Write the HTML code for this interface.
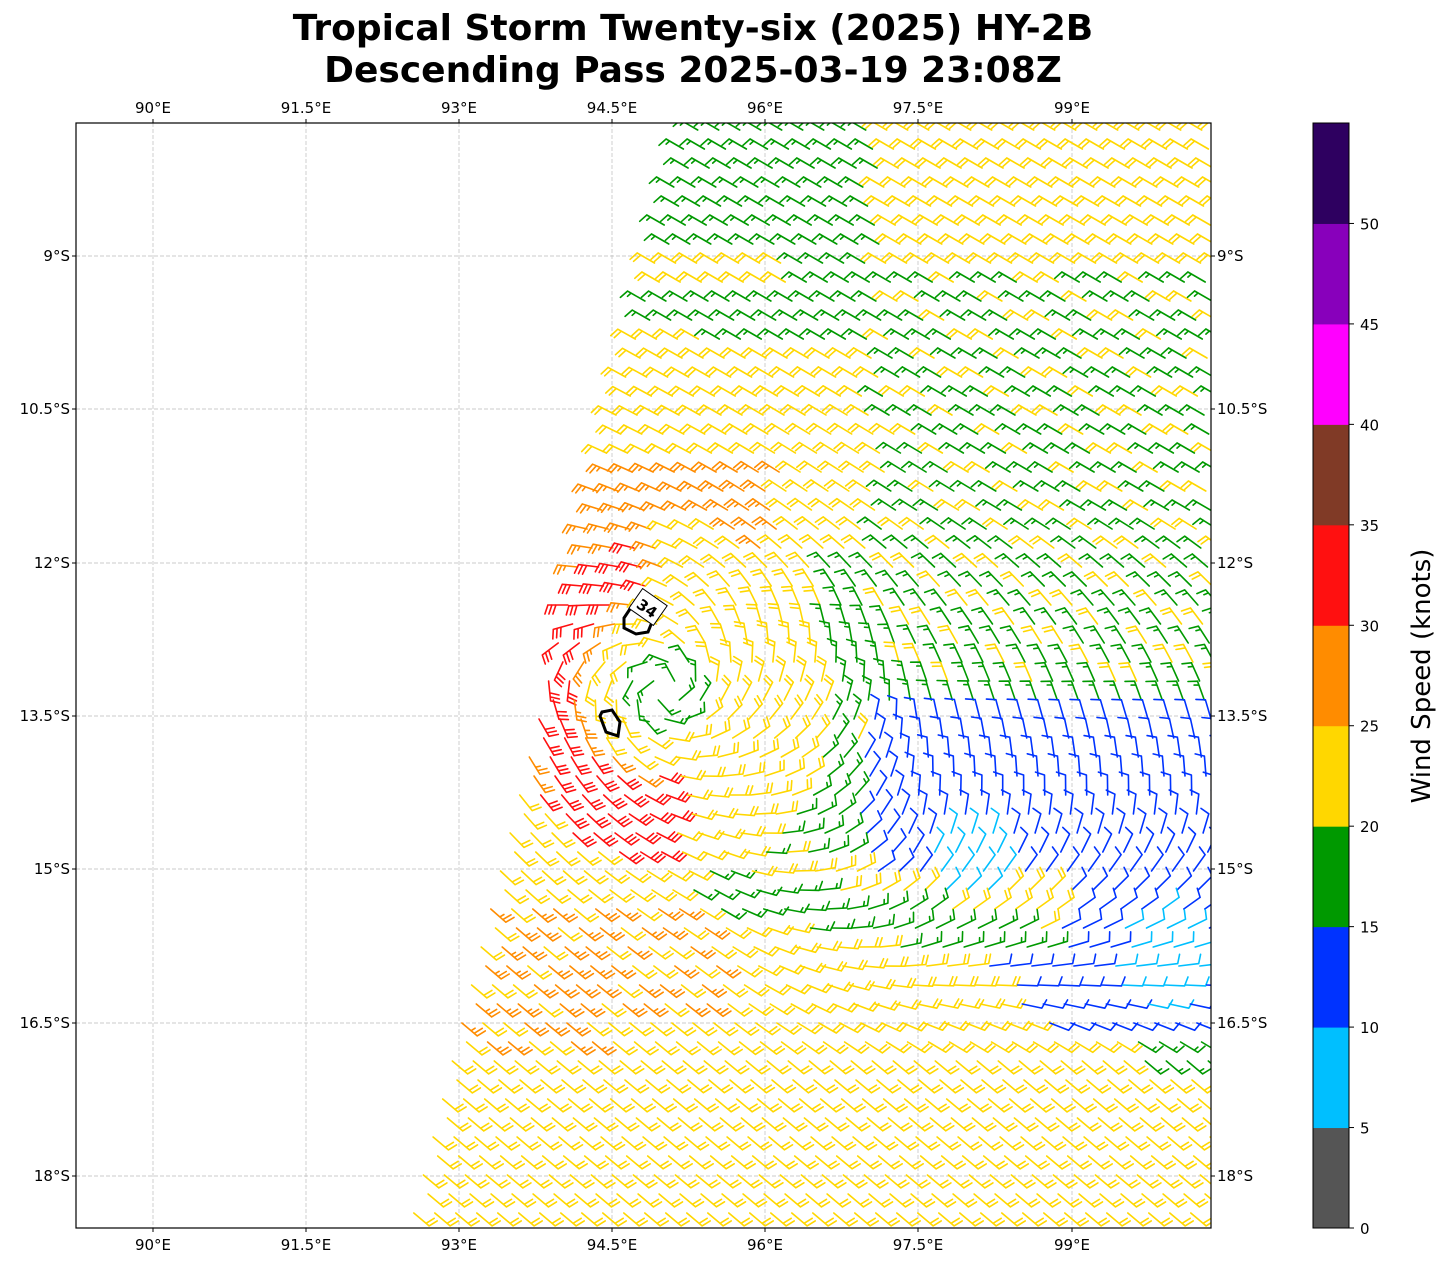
<!DOCTYPE html>
<html><head><meta charset="utf-8">
<style>
body{margin:0;background:#fff;width:1449px;height:1264px;overflow:hidden;font-family:"DejaVu Sans","Liberation Sans",sans-serif}
</style></head><body>
<svg id="s" width="1449" height="1264" xmlns="http://www.w3.org/2000/svg" font-family="DejaVu Sans, Liberation Sans, sans-serif">
<defs><clipPath id="cp"><rect x="76" y="123" width="1135" height="1105"/></clipPath></defs>
<text x="693" y="40" font-size="36" font-weight="bold" text-anchor="middle">Tropical Storm Twenty-six (2025) HY-2B</text>
<text x="693" y="82" font-size="36" font-weight="bold" text-anchor="middle">Descending Pass 2025-03-19 23:08Z</text>
<g id="grid" stroke="#bbbbbb" stroke-width="0.7" stroke-dasharray="4,2"></g>
<g id="barbs" clip-path="url(#cp)" fill="none" stroke-width="1.6" stroke-linecap="round"></g>
<g clip-path="url(#cp)" fill="none" stroke="#000" stroke-width="3">
<path d="M632 606 L624 618 L624 628 L636 634 L648 632 L652 622"/>
<path d="M600 716 L606 732 L618 736 L620 722 L612 710 L602 712 Z"/>
</g>
<rect x="633" y="595" width="30" height="24" fill="#fff" stroke="#000" transform="rotate(35 648 607)"/>
<text x="648" y="614" font-size="15" font-weight="bold" text-anchor="middle" transform="rotate(35 648 607)">34</text>
<rect x="76" y="123" width="1135" height="1105" fill="none" stroke="#000" stroke-width="1.2"/>
<g id="labels" font-size="15"></g>
<g id="cb"></g>
<text transform="translate(1430 676) rotate(-90)" font-size="26" text-anchor="middle">Wind Speed (knots)</text>
</svg>
<script>
const NS="http://www.w3.org/2000/svg";
function el(p,t,a,txt){const e=document.createElementNS(NS,t);for(const k in a)e.setAttribute(k,a[k]);if(txt!==undefined)e.textContent=txt;p.appendChild(e);return e;}
const g=document.getElementById('grid'),L=document.getElementById('labels');
const lons=[[153,'90°E'],[306,'91.5°E'],[459,'93°E'],[612,'94.5°E'],[765,'96°E'],[918,'97.5°E'],[1072,'99°E']];
const lats=[[256,'9°S'],[409,'10.5°S'],[563,'12°S'],[716,'13.5°S'],[869,'15°S'],[1023,'16.5°S'],[1176,'18°S']];
lons.forEach(([x,t])=>{el(g,'line',{x1:x,y1:123,x2:x,y2:1228});
 el(L,'text',{x:x,y:113,'text-anchor':'middle'},t);el(L,'text',{x:x,y:1250,'text-anchor':'middle'},t);
 el(L,'line',{x1:x,y1:123,x2:x,y2:119,stroke:'#000'});el(L,'line',{x1:x,y1:1228,x2:x,y2:1232,stroke:'#000'});});
lats.forEach(([y,t])=>{el(g,'line',{x1:76,y1:y,x2:1211,y2:y});
 el(L,'text',{x:70,y:y+5,'text-anchor':'end'},t);el(L,'text',{x:1217,y:y+5},t);
 el(L,'line',{x1:76,y1:y,x2:72,y2:y,stroke:'#000'});el(L,'line',{x1:1211,y1:y,x2:1215,y2:y,stroke:'#000'});});
const cb=document.getElementById('cb');
const cols=['#555555','#00bfff','#0033ff','#009900','#ffd700','#ff8c00','#ff1010','#803a26','#ff00ff','#8800bb','#2e0060'];
const h=1105/11;
cols.forEach((c,i)=>el(cb,'rect',{x:1313,y:1228-(i+1)*h,width:36,height:h+0.5,fill:c}));
el(cb,'rect',{x:1313,y:123,width:36,height:1105,fill:'none',stroke:'#000','stroke-width':1});
for(let i=0;i<=10;i++){const y=1228-i*h;el(cb,'line',{x1:1349,y1:y,x2:1354,y2:y,stroke:'#000'});el(cb,'text',{x:1360,y:y+6,'font-size':15},String(i*5));}
const B=document.getElementById('barbs');
const cx=665,cy=690;
function speed(x,y){
 const dx=x-cx,dy=y-cy,r=Math.hypot(dx,dy);
 if(r<45)return 17;
 if(r<170){ if(x<cx-15 && r>80 && y<cy+100){ return (r>95&&r<150&&y>520)?32:27;}
   if(r>85 && y>cy+20 && x<cx+10) return 32;
   if(x<cx && r>120) return 27;
   return 22;}
 if(y<cy && y>470 && x<780 && y<570) return 27;
 if(Math.hypot((x-965)/45,(y-860)/40)<1)return 8;
 if(Math.hypot((x-1160)/45,(y-960)/55)<1)return 8;
 if(x>860 && y>700 && y<1040 && y < 860+(x-860)*0.9 && !(y>880&&x<1060&&y<960)) return 12;
 if(y<350 && x<880 && !(y>245&&y<290&&x<800) && !(y>320&&x<700)) return 17;
 if(x>880 && y>280 && y<700){ return ((x-2*y+4000)%90<60)?17:22;}
 if(x>820 && y>560 && y<720) return 17;
 if(x>740 && x<860 && y>640 && y<860 && (x+y)%50<38) return 17;
 if(y>860+(x-690)*0.2 && y<905+(x-690)*0.2 && x>690) return 17;
 if(x>1130 && y>1020 && y<1080) return 17;
 if(x>480 && x<720 && y>890 && y<1010 && ((x+y)%60<35)) return 27;
 if(x>420 && x<600 && y>960 && y<1060 && ((x*3+y)%80<40)) return 27;
 return 22;}
function col(s){return cols[Math.min(10,Math.floor(s/5))];}
function lerpP(P,y){for(let i=0;i<P.length-1;i++){if(y<=P[i+1][0]){const t=Math.max(0,(y-P[i][0])/(P[i+1][0]-P[i][0]));return P[i][1]+t*(P[i+1][1]-P[i][1]);}}return P[P.length-1][1];}
function farAng(x,y){
 const east=lerpP([[0,-150],[520,-150],[700,-110],[800,-90],[900,-40],[980,0],[1060,40],[2000,40]],y);
 const west=lerpP([[0,-150],[560,-150],[760,40],[2000,40]],y);
 const f=Math.min(1,Math.max(0,(x-720)/200));
 return (west*(1-f)+east*f)*Math.PI/180;}
function dir(x,y){
 const dx=x-cx,dy=y-cy,r=Math.hypot(dx,dy)+1;
 const tx=dy/r,ty=-dx/r,ox=dx/r,oy=dy/r;
 const a1=Math.atan2(ty+oy*0.25,tx+ox*0.25);
 const a2=farAng(x,y);
 const w=Math.exp(-Math.pow(r/190,2));
 const vx=Math.cos(a1)*w+Math.cos(a2)*(1-w),vy=Math.sin(a1)*w+Math.sin(a2)*(1-w);
 return Math.atan2(vy,vx);}
let out='';
const sp=19;
for(let y=130;y<1235;y+=sp){
 const xl=690-(y-123)*(280/1105);
 const off=((y/sp)|0)%2?0:sp/2;
 for(let x=xl+off;x<1225;x+=sp+2){
  const s=speed(x,y),c=col(s),a=dir(x,y);
  const ux=Math.cos(a),uy=Math.sin(a),Ln=20;
  const ex=x+ux*Ln,ey=y+uy*Ln;
  let d=`M${x.toFixed(1)} ${y.toFixed(1)}L${ex.toFixed(1)} ${ey.toFixed(1)}`;
  const px=uy,py=-ux; let n=Math.round(s/5); let pos=0;
  while(n>=2){const bxp=ex-ux*pos,byp=ey-uy*pos;
   d+=`M${bxp.toFixed(1)} ${byp.toFixed(1)}l${(px*9+ux*3).toFixed(1)} ${(py*9+uy*3).toFixed(1)}`;n-=2;pos+=4;}
  if(n==1){if(pos==0)pos=4;const bxp=ex-ux*pos,byp=ey-uy*pos;
   d+=`M${bxp.toFixed(1)} ${byp.toFixed(1)}l${(px*4.5+ux*1.5).toFixed(1)} ${(py*4.5+uy*1.5).toFixed(1)}`;}
  out+=`<path d="${d}" stroke="${c}"/>`;
 }}
B.innerHTML=out;
</script>
</body></html>
